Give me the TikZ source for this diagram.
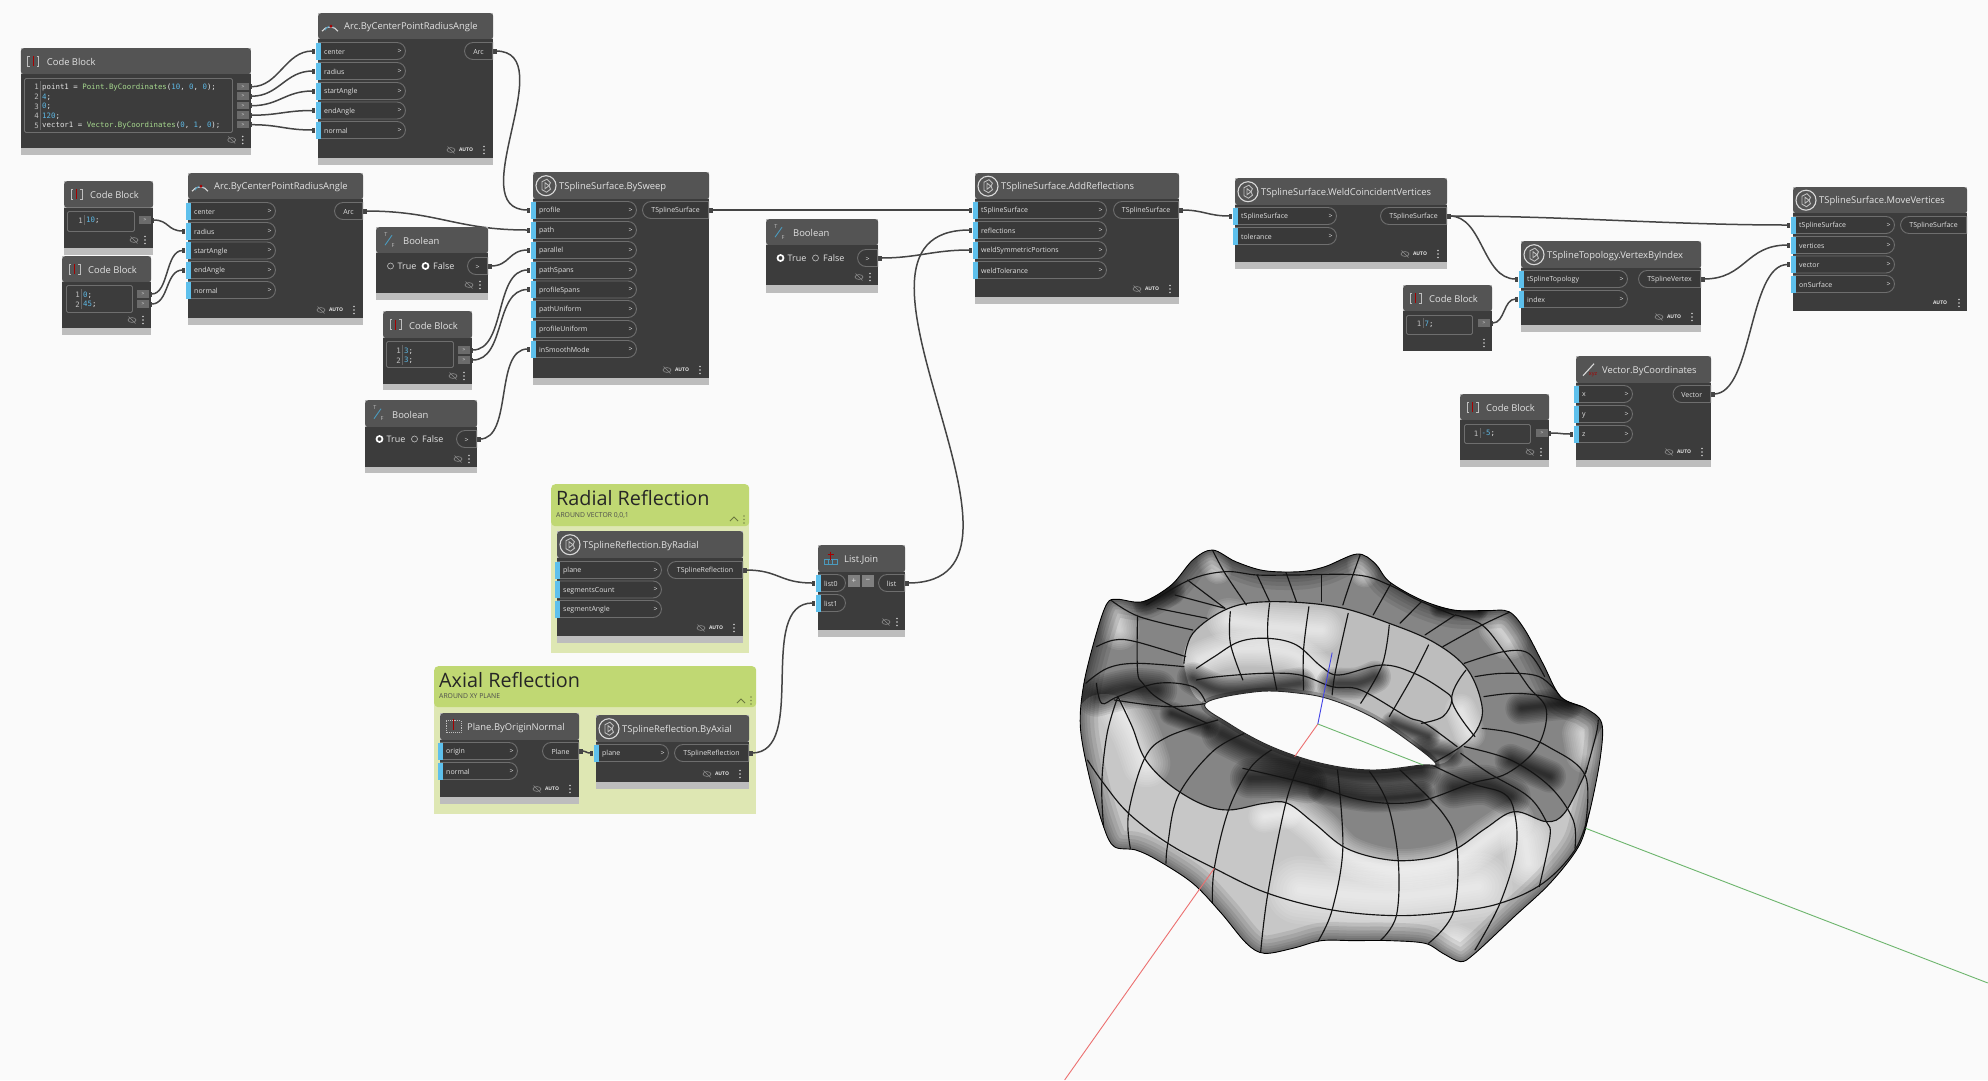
\documentclass[tikz,border=0pt]{standalone}
\usepackage{fontspec}
\setmainfont{Open Sans}
\setsansfont{Open Sans}
\setmonofont{DejaVu Sans Mono}
\usetikzlibrary{arrows.meta,positioning,shapes.misc}
\definecolor{canvasGray}{HTML}{FAFAFA}
\definecolor{bodyDark}{HTML}{3C3C3C}
\definecolor{headDark}{HTML}{545454}
\definecolor{footGray}{HTML}{BDBDBD}
\definecolor{pillEdge}{HTML}{6E6E6E}
\definecolor{pillFill}{HTML}{393939}
\definecolor{portBlue}{HTML}{5EC0EC}
\definecolor{wireGray}{HTML}{444444}
\definecolor{labelGray}{HTML}{E2E2E2}
\definecolor{groupBand}{HTML}{C0D873}
\definecolor{groupBody}{HTML}{DEE7B3}
\definecolor{codeBlue}{HTML}{5DB8E4}
\definecolor{codeGreen}{HTML}{A6D88E}
\definecolor{axisRed}{HTML}{EC7070}
\definecolor{axisGreen}{HTML}{6DB56D}
\definecolor{axisBlue}{HTML}{4545E6}
\pgfdeclarelayer{groups}
\pgfdeclarelayer{wires}
\pgfsetlayers{groups,wires,main}
\tikzset{
  >=Latex,
  font=\sffamily,
  % blocks
  blockbody/.style={fill=bodyDark, anchor=north west, inner sep=0pt},
  blockfoot/.style={fill=footGray, anchor=north west, inner sep=0pt},
  blockhead/.style={fill=headDark, anchor=north west, inner sep=0pt, rounded corners=3pt},
  blocktitle/.style={anchor=west, yshift=-1pt, text=labelGray, inner sep=0pt, font=\sffamily\fontsize{9.4}{10}\selectfont},
  % ports
  inpill/.style={rounded rectangle, rounded rectangle left arc=none, draw=pillEdge, fill=pillFill,
    line width=0.9pt, minimum height=17pt, inner sep=0pt, anchor=west},
  outpill/.style={rounded rectangle, rounded rectangle right arc=none, draw=pillEdge, fill=pillFill,
    line width=0.9pt, minimum height=17pt, inner sep=0pt, anchor=east},
  portstrip/.style={fill=portBlue, minimum width=5pt, minimum height=17pt, inner sep=0pt},
  portlabel/.style={yshift=-1pt, text=labelGray, inner sep=0pt, font=\sffamily\fontsize{7}{8}\selectfont},
  chevron/.style={text=labelGray, inner sep=0pt, font=\sffamily\fontsize{7}{8}\selectfont},
  chipbox/.style={fill=black!58, minimum width=11.5pt, minimum height=7.5pt, inner sep=0pt,
    text=labelGray, font=\sffamily\fontsize{5}{6}\selectfont},
  % code blocks
  codeframe/.style={draw=pillEdge, line width=0.9pt, rounded corners=1.5pt, anchor=north west, inner sep=0pt},
  codenum/.style={anchor=east, yshift=-1pt, inner sep=0pt, text=black!25, font=\ttfamily\fontsize{7.4}{8}\selectfont},
  codetext/.style={anchor=west, yshift=-1pt, inner sep=0pt, text=labelGray, font=\ttfamily\fontsize{7.4}{8}\selectfont},
  codeseam/.style={draw=black!60, line width=0.5pt},
  % booleans
  radiooff/.style={circle, draw=black!30, line width=0.7pt, minimum size=6pt, inner sep=0pt},
  radioon/.style={circle, draw=white, fill=bodyDark, line width=1.7pt, minimum size=6pt, inner sep=0pt},
  radiotext/.style={anchor=west, inner sep=0pt, text=labelGray, font=\sffamily\fontsize{9}{10}\selectfont},
  % footer and icons
  autotext/.style={inner sep=0pt, text=labelGray, font=\sffamily\bfseries\fontsize{5}{6}\selectfont},
  kebab/.style={fill=black!20},
  eyeline/.style={draw=black!45, line width=0.6pt},
  iconline/.style={draw=black!25, line width=0.9pt},
  iconwhite/.style={draw=white!85!black, line width=1.1pt},
  iconred/.style={draw=red!65!black, line width=1pt},
  iconblue/.style={draw=portBlue!80!black, line width=0.9pt},
  icontext/.style={inner sep=0pt, text=black!25, font=\sffamily\fontsize{5.5}{6}\selectfont},
  listbutton/.style={fill=black!50, minimum size=12pt, inner sep=0pt, text=labelGray, font=\sffamily\fontsize{8}{9}\selectfont},
  % groups
  groupband/.style={fill=groupBand, anchor=north west, inner sep=0pt, rounded corners=4pt},
  groupbody/.style={fill=groupBody, anchor=north west, inner sep=0pt},
  grouptitle/.style={anchor=west, inner sep=0pt, text=black!85, font=\sffamily\fontsize{19.8}{24}\selectfont},
  groupnote/.style={anchor=west, inner sep=0pt, text=black!70, font=\sffamily\fontsize{6.8}{8}\selectfont},
  groupmark/.style={draw=black!45!groupBand, line width=0.9pt},
  groupdot/.style={fill=black!35!groupBand},
  % wires
  wire/.style={draw=wireGray, line width=1.5pt,
    {Rectangle[length=3.5pt,width=5pt]}-{Rectangle[length=3.5pt,width=5pt]}},
  % viewport
  canvas/.style={fill=canvasGray},
  meshline/.style={draw=black!92, line width=1.15pt, line cap=round},
  axisline/.style={line width=0.9pt}
}
\newcommand{\dynblock}[7]{%
  \pgfmathsetmacro{\dynW}{#4-#2}%
  \pgfmathsetmacro{\dynF}{#7-#3}%
  \pgfmathsetmacro{\dynB}{#6-#5}%
  \pgfmathsetmacro{\dynH}{#5-#3}%
  \node[blockfoot, minimum width=\dynW pt, minimum height=\dynF pt] (#1foot) at (#2,#3) {};
  \node[blockhead, minimum width=\dynW pt, minimum height=\dynH pt] (#1head) at (#2,#3) {};
  \node[blockbody, minimum width=\dynW pt, minimum height=\dynB pt] (#1) at (#2,#5) {};
}
% the title comes after the block so the head never hides it
\newcommand{\dyntitle}[3]{\node[blocktitle] (#1title) at ([xshift=#2pt]#1head.west) {#3};}
\newcommand{\shortport}[5]{%
  \node[inpill, minimum width=#4pt] (#1pill) at (#2,#3) {};
  \node[portstrip] (#1) at (#2,#3) {};
  \node[portlabel, anchor=west] (#1label) at ([xshift=6pt]#1.center) {#5};
}
\newcommand{\inport}[5]{%
  \shortport{#1}{#2}{#3}{#4}{#5}
  \node[chevron, anchor=east] (#1mark) at ([xshift=-4pt]#1pill.east) {>};
}
\newcommand{\outport}[5]{%
  \node[outpill, minimum width=#4pt] (#1) at (#2,#3) {};
  \node[portlabel] (#1label) at (#1.center) {#5};
}
\newcommand{\codeline}[5]{%
  \node[codenum] (#1num) at ([xshift=-1.5pt]#2,#3) {#4};
  \node[codetext] (#1code) at ([xshift=1.5pt]#2,#3) {#5};
  \draw[codeseam] ([yshift=-5pt]#2,#3) -- ([yshift=5pt]#2,#3);
}
\newcommand{\cnum}[1]{\textcolor{codeBlue}{#1}}
\newcommand{\ccls}[1]{\textcolor{codeGreen}{#1}}
\newcommand{\kebabdots}[2]{%
  \foreach \dy in {-3.5,0,3.5} \fill[kebab] ([xshift=-#2pt,yshift=-\dy pt]#1) ++(0,-8) circle (0.9pt);
}
\newcommand{\eyemark}[2]{%
  \begin{scope}[shift={(#1)}]
    \draw[eyeline] (-#2,-8) ellipse (4pt and 2.4pt);
    \draw[eyeline] (-#2-3.5,-11.5) -- (-#2+3.5,-4.5);
  \end{scope}
}
\newcommand{\autofoot}[2]{%
  \eyemark{#2}{42}
  \node[autotext] (#1auto) at ([xshift=-27pt,yshift=8pt]#2) {AUTO};
  \kebabdots{#2}{9}
}
\newcommand{\plainfoot}[1]{\eyemark{#1}{19}\kebabdots{#1}{8}}
\newcommand{\iconcode}[1]{%
  \begin{scope}[shift={(#1head.west)}]
    \draw[iconline] (9,-5) -- (7,-5) -- (7,5) -- (9,5);
    \draw[iconline] (16,-5) -- (18,-5) -- (18,5) -- (16,5);
    \draw[iconred] (12.5,-5) -- (12.5,5);
  \end{scope}
}
\newcommand{\iconring}[1]{%
  \begin{scope}[shift={(#1head.west)}]
    \draw[iconwhite] (13,0) circle (10pt);
    \draw[iconline] (9,-4) -- (14,-6.5) -- (17.5,-3) -- (16,0) -- (17.5,3.5) -- (13.5,6.5) -- (9,4) -- cycle;
    \draw[iconline] (12,-3) -- (12,3) -- (16,0) -- cycle;
  \end{scope}
}
\newcommand{\iconarc}[1]{%
  \begin{scope}[shift={(#1head.west)}]
    \draw[iconwhite] (4,5) arc (147:33:9.5pt);
    \draw[iconblue] (7,4) arc (160:60:6pt);
    \fill[red!65!black] (13,0) circle (1.6pt);
  \end{scope}
}
\newcommand{\iconbool}[1]{%
  \begin{scope}[shift={(#1head.west)}]
    \draw[iconblue] (9,5) -- (16,-5);
    \node[icontext] (#1iconT) at (10,-6) {T};
    \node[icontext] (#1iconF) at (17,5) {F};
  \end{scope}
}
\newcommand{\boolrow}[5]{%
  \node[#4] (#1radioT) at ([xshift=14.5pt]#2,#3) {};
  \node[radiotext] (#1true) at ([xshift=21.5pt]#2,#3) {True};
  \node[#5] (#1radioF) at ([xshift=49.5pt]#2,#3) {};
  \node[radiotext] (#1false) at ([xshift=57pt]#2,#3) {False};
}
\newcommand{\mesh}[1]{\draw[meshline] plot[smooth, tension=0.6] coordinates {#1};}
% a stroke built up in layers, it reads as a blurred band on the surface
\newcommand{\softband}[3]{%
  \foreach \w in {40,36,32,28,24,20,16,13,10,7,4}
    \draw[#1, opacity=0.085, line width={\w*#2*1pt}, line cap=round] plot[smooth, tension=0.6] coordinates {#3};
}
\newcommand{\ringshape}{plot[smooth cycle, tension=0.55] coordinates {(455,90)(520,125)(600,152)(700,155)(770,140)(860,102)(910,130)(950,185)(1040,240)(1130,270)(1220,272)(1285,275)(1330,330)(1380,430)(1430,530)(1500,565)(1545,610)(1540,720)(1510,880)(1480,980)(1400,1090)(1300,1190)(1190,1300)(1150,1325)(1100,1300)(1050,1270)(950,1262)(850,1262)(760,1262)(680,1285)(600,1300)(550,1270)(480,1180)(400,1090)(300,1020)(240,990)(180,980)(150,920)(110,770)(85,620)(95,490)(130,340)(160,250)(190,238)(260,245)(340,195)(400,120)}}
\newcommand{\holeshape}{plot[smooth cycle, tension=0.6] coordinates {(435,550)(580,515)(700,520)(790,540)(900,590)(1000,660)(1080,730)(1040,735)(900,750)(760,730)(620,680)(500,610)}}
\begin{document}
\begin{tikzpicture}[x=1pt,y=-1pt]
\useasboundingbox (0,0) rectangle (1988,1080);
\begin{pgfonlayer}{groups}
\fill[canvas] (0,0) rectangle (1988,1080);
\node[groupbody, minimum width=198pt, minimum height=159pt] (radialgroup) at (551,494) {};
\node[groupband, minimum width=198pt, minimum height=42pt] (radialband) at (551,484) {};
\node[groupbody, minimum width=322pt, minimum height=138pt] (axialgroup) at (434,676) {};
\node[groupband, minimum width=322pt, minimum height=41pt] (axialband) at (434,666) {};
\end{pgfonlayer}

\node[grouptitle] (radialtitle) at (556,498) {Radial Reflection};
\node[groupnote] (radialnote) at (556,515) {AROUND VECTOR 0,0,1};
\draw[groupmark] (730,521) -- (734,517) -- (738,521);
\foreach \dy in {516,519.5,523} \fill[groupdot] (744,\dy) circle (0.9pt);
\node[grouptitle] (axialtitle) at (439,680) {Axial Reflection};
\node[groupnote] (axialnote) at (439,696) {AROUND XY PLANE};
\draw[groupmark] (737,703) -- (741,699) -- (745,703);
\foreach \dy in {697,700.5,704} \fill[groupdot] (751,\dy) circle (0.9pt);

% top left code block and arc
\dynblock{codeA}{20.7}{48}{250.7}{74}{148}{155}
\dyntitle{codeA}{26}{Code Block}\iconcode{codeA}
\node[codeframe, minimum width=208pt, minimum height=54pt] (codeAframe) at (24,78) {};
\codeline{codeAa}{40.5}{86}{1}{point1 = \ccls{Point.ByCoordinates}(\cnum{10}, \cnum{0}, \cnum{0});}
\codeline{codeAb}{40.5}{96}{2}{\cnum{4};}
\codeline{codeAc}{40.5}{105.5}{3}{\cnum{0};}
\codeline{codeAd}{40.5}{115}{4}{\cnum{120};}
\codeline{codeAe}{40.5}{124.7}{5}{vector1 = \ccls{Vector.ByCoordinates}(\cnum{0}, \cnum{1}, \cnum{0});}
\node[chipbox] (codeAone) at (243,86.7) {>};
\node[chipbox] (codeAtwo) at (243,96.2) {>};
\node[chipbox] (codeAthree) at (243,105.7) {>};
\node[chipbox] (codeAfour) at (243,115.2) {>};
\node[chipbox] (codeAfive) at (243,124.7) {>};
\coordinate (codeAcorner) at (250.7,148);
\plainfoot{codeAcorner}

\dynblock{arcA}{318}{13}{493}{39}{158}{165}
\dyntitle{arcA}{26}{Arc.ByCenterPointRadiusAngle}\iconarc{arcA}
\inport{arcAcenter}{318}{51}{87}{center}
\inport{arcAradius}{318}{71}{87}{radius}
\inport{arcAstart}{318}{91}{87}{startAngle}
\inport{arcAend}{318}{110.5}{87}{endAngle}
\inport{arcAnormal}{318}{130}{87}{normal}
\outport{arcAout}{493}{51}{28}{Arc}
\coordinate (arcAcorner) at (493,158);
\autofoot{arcA}{arcAcorner}

% second arc with its two code blocks
\dynblock{codeB}{64}{181}{153}{207.5}{248}{255}
\dyntitle{codeB}{26}{Code Block}\iconcode{codeB}
\node[codeframe, minimum width=67pt, minimum height=20pt] (codeBframe) at (67,211) {};
\codeline{codeBa}{84.5}{219.5}{1}{\cnum{10};}
\node[chipbox] (codeBone) at (145,220) {>};
\coordinate (codeBcorner) at (153,248);
\plainfoot{codeBcorner}

\dynblock{codeC}{62}{256}{151}{282}{328}{335}
\dyntitle{codeC}{26}{Code Block}\iconcode{codeC}
\node[codeframe, minimum width=66pt, minimum height=27pt] (codeCframe) at (66,285) {};
\codeline{codeCa}{81.5}{294}{1}{\cnum{0};}
\codeline{codeCb}{81.5}{303.5}{2}{\cnum{45};}
\node[chipbox] (codeCone) at (143,294) {>};
\node[chipbox] (codeCtwo) at (143,304) {>};
\coordinate (codeCcorner) at (151,328);
\plainfoot{codeCcorner}

\dynblock{arcB}{188}{173}{363}{199}{318}{325}
\dyntitle{arcB}{26}{Arc.ByCenterPointRadiusAngle}\iconarc{arcB}
\inport{arcBcenter}{188}{211}{87}{center}
\inport{arcBradius}{188}{231}{87}{radius}
\inport{arcBstart}{188}{250.5}{87}{startAngle}
\inport{arcBend}{188}{270}{87}{endAngle}
\inport{arcBnormal}{188}{290}{87}{normal}
\outport{arcBout}{363}{211}{28}{Arc}
\coordinate (arcBcorner) at (363,318);
\autofoot{arcB}{arcBcorner}

% sweep inputs
\dynblock{boolA}{376}{227}{488}{253}{293}{300}
\dyntitle{boolA}{27}{Boolean}\iconbool{boolA}
\boolrow{boolA}{376}{266}{radiooff}{radioon}
\outport{boolAout}{488}{266}{20}{>}
\coordinate (boolAcorner) at (488,293);
\plainfoot{boolAcorner}

\dynblock{codeD}{383}{311}{472}{338}{384}{390}
\dyntitle{codeD}{26}{Code Block}\iconcode{codeD}
\node[codeframe, minimum width=67pt, minimum height=26pt] (codeDframe) at (386,341) {};
\codeline{codeDa}{402.5}{350}{1}{\cnum{3};}
\codeline{codeDb}{402.5}{359.5}{2}{\cnum{3};}
\node[chipbox] (codeDone) at (464,350) {>};
\node[chipbox] (codeDtwo) at (464,360) {>};
\coordinate (codeDcorner) at (472,384);
\plainfoot{codeDcorner}

\dynblock{boolB}{365}{400}{477}{427}{467}{473}
\dyntitle{boolB}{27}{Boolean}\iconbool{boolB}
\boolrow{boolB}{365}{439}{radioon}{radiooff}
\outport{boolBout}{477}{439}{20}{>}
\coordinate (boolBcorner) at (477,467);
\plainfoot{boolBcorner}

\dynblock{sweep}{533}{172}{709}{199}{378}{385}
\dyntitle{sweep}{26}{TSplineSurface.BySweep}\iconring{sweep}
\inport{sweepprofile}{533}{210}{103}{profile}
\inport{sweeppath}{533}{230}{103}{path}
\inport{sweepparallel}{533}{250}{103}{parallel}
\inport{sweeppathspans}{533}{270}{103}{pathSpans}
\inport{sweepprofilespans}{533}{289.5}{103}{profileSpans}
\inport{sweeppathuniform}{533}{309}{103}{pathUniform}
\inport{sweepprofileuniform}{533}{329}{103}{profileUniform}
\inport{sweepsmooth}{533}{349}{103}{inSmoothMode}
\outport{sweepout}{709}{210}{66}{TSplineSurface}
\coordinate (sweepcorner) at (709,378);
\autofoot{sweep}{sweepcorner}

% add reflections and weld
\dynblock{boolC}{766}{219}{878}{245}{285}{293}
\dyntitle{boolC}{27}{Boolean}\iconbool{boolC}
\boolrow{boolC}{766}{258}{radioon}{radiooff}
\outport{boolCout}{878}{258}{20}{>}
\coordinate (boolCcorner) at (878,285);
\plainfoot{boolCcorner}

\dynblock{addrefl}{975}{173}{1179}{199}{297}{304}
\dyntitle{addrefl}{26}{TSplineSurface.AddReflections}\iconring{addrefl}
\inport{addreflsurface}{975}{210}{131}{tSplineSurface}
\inport{addreflreflections}{975}{230}{131}{reflections}
\inport{addreflweld}{975}{250}{131}{weldSymmetricPortions}
\inport{addrefltolerance}{975}{270}{131}{weldTolerance}
\outport{addreflout}{1179}{210}{65}{TSplineSurface}
\coordinate (addreflcorner) at (1179,297);
\autofoot{addrefl}{addreflcorner}

\dynblock{weld}{1235}{178}{1447}{205}{262}{269}
\dyntitle{weld}{26}{TSplineSurface.WeldCoincidentVertices}\iconring{weld}
\inport{weldsurface}{1235}{216}{101}{tSplineSurface}
\inport{weldtolerance}{1235}{236}{101}{tolerance}
\outport{weldout}{1447}{216}{66}{TSplineSurface}
\coordinate (weldcorner) at (1447,262);
\autofoot{weld}{weldcorner}

% vertex, vector, move
\dynblock{vertex}{1521}{241}{1701}{268}{325}{332}
\dyntitle{vertex}{26}{TSplineTopology.VertexByIndex}\iconring{vertex}
\inport{vertextopology}{1521}{279}{106}{tSplineTopology}
\inport{vertexindex}{1521}{299}{106}{index}
\outport{vertexout}{1701}{279}{62}{TSplineVertex}
\coordinate (vertexcorner) at (1701,325);
\autofoot{vertex}{vertexcorner}

\dynblock{codeE}{1403}{285}{1492}{311}{351}{351}
\dyntitle{codeE}{26}{Code Block}\iconcode{codeE}
\node[codeframe, minimum width=66pt, minimum height=19pt] (codeEframe) at (1406,315) {};
\codeline{codeEa}{1423}{323}{1}{\cnum{7};}
\node[chipbox] (codeEone) at (1484,323) {>};
\coordinate (codeEcorner) at (1492,351);
\kebabdots{codeEcorner}{8}

\dynblock{codeF}{1460}{394}{1549}{420}{460}{467}
\dyntitle{codeF}{26}{Code Block}\iconcode{codeF}
\node[codeframe, minimum width=66pt, minimum height=19pt] (codeFframe) at (1464,424) {};
\codeline{codeFa}{1480}{432.5}{1}{\cnum{-5};}
\node[chipbox] (codeFone) at (1542,433) {>};
\coordinate (codeFcorner) at (1549,460);
\plainfoot{codeFcorner}

\dynblock{vector}{1576}{356}{1711}{383}{460}{467}
\dyntitle{vector}{26}{Vector.ByCoordinates}
\begin{scope}[shift={(vectorhead.west)}]
  \draw[iconwhite] (7,6) -- (18,-6);
  \node[icontext, text=red!65!black] (vectoriconxyz) at (17,5) {xyz};
\end{scope}
\inport{vectorx}{1576}{394}{56}{x}
\inport{vectory}{1576}{414}{56}{y}
\inport{vectorz}{1576}{434}{56}{z}
\outport{vectorout}{1711}{394}{37.5}{Vector}
\coordinate (vectorcorner) at (1711,460);
\autofoot{vector}{vectorcorner}

\dynblock{move}{1793}{187}{1967}{213}{311}{311}
\dyntitle{move}{26}{TSplineSurface.MoveVertices}\iconring{move}
\inport{movesurface}{1793}{225}{101}{tSplineSurface}
\inport{movevertices}{1793}{245}{101}{vertices}
\inport{movevector}{1793}{264.5}{101}{vector}
\inport{moveonsurface}{1793}{284}{101}{onSurface}
\outport{moveout}{1967}{225}{66}{TSplineSurface}
\coordinate (movecorner) at (1967,311);
\node[autotext] (moveauto) at ([xshift=-27pt,yshift=8pt]movecorner) {AUTO};
\kebabdots{movecorner}{8}

% reflections and list join
\dynblock{radial}{557}{531}{743}{558}{636}{643}
\dyntitle{radial}{26}{TSplineReflection.ByRadial}\iconring{radial}
\inport{radialplane}{557}{570}{104}{plane}
\inport{radialcount}{557}{589.5}{104}{segmentsCount}
\inport{radialangle}{557}{609}{104}{segmentAngle}
\outport{radialout}{743}{570}{75}{TSplineReflection}
\coordinate (radialcorner) at (743,636);
\autofoot{radial}{radialcorner}

\dynblock{plane}{440}{713}{579}{740}{797}{804}
\dyntitle{plane}{27}{Plane.ByOriginNormal}
\begin{scope}[shift={(planehead.west)}]
  \draw[iconline, densely dotted] (6,-6) rectangle (21,6);
  \draw[iconred] (13.5,-8) -- (13.5,3);
\end{scope}
\inport{planeorigin}{440}{751}{77}{origin}
\inport{planenormal}{440}{771}{77}{normal}
\outport{planeout}{579}{751}{36}{Plane}
\coordinate (planecorner) at (579,797);
\autofoot{plane}{planecorner}

\dynblock{axial}{596}{715}{749}{742}{782}{789}
\dyntitle{axial}{26}{TSplineReflection.ByAxial}\iconring{axial}
\inport{axialplane}{596}{753}{72}{plane}
\outport{axialout}{749}{753}{74}{TSplineReflection}
\coordinate (axialcorner) at (749,782);
\autofoot{axial}{axialcorner}

\dynblock{join}{818}{545}{905}{572}{630}{637}
\dyntitle{join}{26}{List.Join}
\begin{scope}[shift={(joinhead.west)}]
  \draw[iconblue] (6,1) rectangle (19,6);
  \draw[iconblue] (10.5,1) -- (10.5,6);
  \draw[iconblue] (14.5,1) -- (14.5,6);
  \draw[iconred] (12.5,-7) -- (12.5,1);
  \draw[iconred] (9.5,-4) -- (15.5,-4);
\end{scope}
\shortport{joinzero}{818}{583}{27}{list0}
\shortport{joinone}{818}{603}{27}{list1}
\outport{joinout}{905}{583}{26}{list}
\node[listbutton] (joinplus) at (854,581) {+};
\node[listbutton] (joinminus) at (868,581) {−};
\coordinate (joincorner) at (905,630);
\plainfoot{joincorner}

\begin{pgfonlayer}{wires}
\draw[wire] (codeAone.east) .. controls +(30,0) and +(-30,0) .. (arcAcenter.west);
\draw[wire] (codeAtwo.east) .. controls +(30,0) and +(-30,0) .. (arcAradius.west);
\draw[wire] (codeAthree.east) .. controls +(30,0) and +(-30,0) .. (arcAstart.west);
\draw[wire] (codeAfour.east) .. controls +(30,0) and +(-30,0) .. (arcAend.west);
\draw[wire] (codeAfive.east) .. controls +(30,0) and +(-30,0) .. (arcAnormal.west);
\draw[wire] (arcAout.east) .. controls +(70,0) and +(-70,0) .. (sweepprofile.west);
\draw[wire] (codeBone.east) .. controls +(18,0) and +(-18,0) .. (arcBradius.west);
\draw[wire] (codeCone.east) .. controls +(20,0) and +(-20,0) .. (arcBstart.west);
\draw[wire] (codeCtwo.east) .. controls +(20,0) and +(-20,0) .. (arcBend.west);
\draw[wire] (arcBout.east) .. controls +(75,0) and +(-75,0) .. (sweeppath.west);
\draw[wire] (boolAout.east) .. controls +(22,0) and +(-22,0) .. (sweepparallel.west);
\draw[wire] (codeDone.east) .. controls +(36,0) and +(-36,0) .. (sweeppathspans.west);
\draw[wire] (codeDtwo.east) .. controls +(36,0) and +(-36,0) .. (sweepprofilespans.west);
\draw[wire] (boolBout.east) .. controls +(36,0) and +(-36,0) .. (sweepsmooth.west);
\draw[wire] (sweepout.east) .. controls +(60,0) and +(-60,0) .. (addreflsurface.west);
\draw[wire] (boolCout.east) .. controls +(40,0) and +(-40,0) .. (addreflweld.west);
\draw[wire] (joinout.east) .. controls +(165,0) and +(-165,0) .. (addreflreflections.west);
\draw[wire] (addreflout.east) .. controls +(25,0) and +(-25,0) .. (weldsurface.west);
\draw[wire] (weldout.east) .. controls +(120,0) and +(-120,0) .. (movesurface.west);
\draw[wire] (weldout.east) .. controls +(36,0) and +(-36,0) .. (vertextopology.west);
\draw[wire] (codeEone.east) .. controls +(15,0) and +(-15,0) .. (vertexindex.west);
\draw[wire] (vertexout.east) .. controls +(45,0) and +(-45,0) .. (movevertices.west);
\draw[wire] (vectorout.east) .. controls +(42,0) and +(-42,0) .. (movevector.west);
\draw[wire] (codeFone.east) .. controls +(14,0) and +(-14,0) .. (vectorz.west);
\draw[wire] (radialout.east) .. controls +(36,0) and +(-36,0) .. (joinzero.west);
\draw[wire] (axialout.east) .. controls +(60,0) and +(-60,0) .. (joinone.west);
\draw[wire] (planeout.east) .. controls +(8,0) and +(-8,0) .. (axialplane.west);
\end{pgfonlayer}

% surface preview
\begin{scope}[shift={(1050,520)}, x=0.3571pt, y=-0.3333pt]
\begin{scope}
  \clip \ringshape;
  \fill[black!48] (0,0) rectangle (1600,1400);
  % front wall
  \fill[black!22] plot[smooth cycle, tension=0.5] coordinates {(190,530)(230,620)(265,715)(330,790)(420,850)(500,870)(600,850)(665,850)(740,910)(830,985)(950,1020)(1060,1015)(1140,985)(1220,925)(1300,875)(1390,905)(1440,880)(1490,780)(1560,620)(1640,1000)(1200,1440)(100,1440)(40,700)(100,540)};
  % inner wall
  \fill[black!26] plot[smooth cycle, tension=0.5] coordinates {(375,430)(400,340)(500,265)(620,245)(800,260)(950,310)(1080,370)(1170,450)(1210,560)(1195,630)(1150,680)(1080,730)(900,600)(700,520)(435,550)};
  % highlights
  \softband{white}{1}{(700,880)(760,930)(830,1005)(950,1045)(1060,1040)(1150,1010)(1230,950)(1300,900)}
  \softband{white}{1.2}{(205,570)(240,640)(270,730)}
  \softband{white}{0.8}{(600,890)(660,880)}
  \softband{white}{1.1}{(500,300)(620,320)(760,330)}
  \softband{white}{0.9}{(420,420)(480,395)(560,385)(680,400)(760,460)}
  \softband{white}{0.8}{(1150,570)(1175,640)}
  \softband{white}{1.2}{(1330,960)(1340,1030)}
  \softband{white}{1.7}{(700,1110)(950,1130)(1200,1100)}
  \softband{white}{1}{(185,280)(195,330)}
  \softband{white}{1}{(1255,320)(1285,360)}
  \softband{white}{1}{(1490,640)(1500,700)}
  \softband{white}{0.7}{(870,130)(880,160)}
  \softband{white}{0.7}{(450,120)(470,150)}
  \softband{white}{1}{(1130,1270)(1170,1290)}
  % creases
  \softband{black}{1}{(130,530)(230,505)(300,510)}
  \softband{black}{1}{(560,775)(640,775)(720,790)}
  \softband{black}{1}{(1130,805)(1220,795)(1290,830)}
  \softband{black}{0.8}{(790,490)(860,490)(910,470)}
  \softband{black}{0.8}{(400,475)(470,510)(560,510)(700,490)}
  \softband{black}{0.8}{(1320,565)(1400,555)(1450,550)}
  \softband{black}{0.7}{(270,245)(340,215)}
  \softband{black}{0.7}{(1040,690)(1120,705)}
  \softband{black}{1}{(480,640)(600,700)(760,750)(900,765)(1040,750)}
  \softband{black}{0.6}{(960,610)(1060,650)}
  \softband{black}{0.5}{(1090,265)(1200,270)}
  \softband{black}{0.8}{(1290,720)(1400,770)}
  \softband{black}{0.7}{(760,810)(900,835)(1040,825)}
  \softband{black}{0.6}{(340,580)(440,620)}
  % edge darkening
  \foreach \w in {36,28,20,14,9,5}
    \draw[black, opacity=0.085, line width=\w pt] \ringshape;
  \draw[black, opacity=0.22, line width=7pt] \holeshape;
  % front mesh
  \mesh{(190,530)(230,620)(265,715)(330,790)(420,850)(500,870)(600,850)(665,850)(740,910)(830,985)(950,1020)(1060,1015)(1140,985)(1220,925)(1300,875)(1390,905)(1440,880)(1490,780)(1505,740)}
  \mesh{(105,720)(150,790)(220,880)(330,970)(460,1045)(610,1120)(790,1170)(970,1187)(1130,1175)(1260,1150)(1380,1090)(1470,990)(1510,880)}
  \mesh{(590,1295)(610,1120)(660,850)(700,725)}
  \mesh{(455,1160)(460,1045)(500,870)(560,745)(620,690)}
  \mesh{(325,1030)(330,970)(360,825)(455,695)(545,640)}
  \mesh{(225,985)(220,880)(265,715)(330,650)(470,600)}
  \mesh{(150,920)(145,790)(160,640)(190,530)}
  \mesh{(750,1265)(790,1170)(820,985)(805,750)}
  \mesh{(925,1262)(970,1187)(975,1020)(945,850)(895,755)}
  \mesh{(1060,1270)(1130,1175)(1140,985)(1100,880)(980,750)}
  \mesh{(1190,1290)(1260,1150)(1305,990)(1300,875)(1270,820)(1180,790)(1060,730)}
  \mesh{(1370,1100)(1400,950)(1390,905)(1340,830)(1230,760)(1150,700)}
  \mesh{(1470,985)(1465,900)(1400,800)(1290,720)(1160,680)}
  \mesh{(540,745)(660,775)(750,800)(850,835)(950,850)(1050,840)(1180,790)(1280,760)(1365,680)(1390,570)(1340,500)(1275,400)(1210,315)(1135,285)}
  \mesh{(1495,950)(1500,770)(1395,680)(1300,640)(1210,625)}
  % right mesh
  \mesh{(1160,430)(1270,395)(1340,400)(1385,470)}
  \mesh{(1190,470)(1270,460)(1370,470)(1430,530)}
  \mesh{(1215,530)(1300,520)(1390,530)(1490,560)}
  \mesh{(1500,760)(1530,640)(1535,600)}
  \mesh{(1100,380)(1210,315)(1290,275)}
  \mesh{(1050,345)(1135,285)}
  \mesh{(980,310)(1040,245)}
  \mesh{(905,285)(955,190)}
  % back mesh
  \mesh{(455,90)(490,160)(550,255)}
  \mesh{(580,165)(615,245)}
  \mesh{(660,155)(690,245)}
  \mesh{(760,165)(760,245)}
  \mesh{(870,100)(840,190)(820,255)}
  \mesh{(270,255)(390,180)(490,155)(580,165)(680,165)(860,165)(950,195)(1030,240)(1130,285)}
  \mesh{(170,240)(250,290)(400,330)}
  \mesh{(300,265)(440,295)}
  \mesh{(350,225)(490,265)}
  \mesh{(385,180)(490,265)}
  % left mesh
  \mesh{(130,380)(180,360)(240,365)(380,410)}
  \mesh{(100,490)(160,445)(240,430)(375,440)}
  \mesh{(245,290)(245,450)(260,490)(310,540)(440,610)}
  \mesh{(130,490)(145,550)(190,530)(300,490)(400,500)(435,545)}
  \mesh{(180,540)(330,560)(440,550)}
  % inner wall mesh
  \mesh{(375,430)(400,340)(500,265)(620,245)(800,260)(950,310)(1080,370)(1170,450)(1210,560)(1195,630)(1150,680)(1080,725)}
  \mesh{(410,445)(460,410)(530,365)(610,355)(690,375)(760,440)(810,465)(930,435)(1020,460)(1100,510)(1125,540)(1100,590)(1040,610)}
  \mesh{(505,275)(505,370)(540,480)}
  \mesh{(615,250)(610,355)(635,510)}
  \mesh{(725,260)(710,390)(710,510)}
  \mesh{(835,280)(800,450)(790,525)}
  \mesh{(950,315)(930,435)(870,550)}
  \mesh{(1060,375)(1020,460)(950,590)}
  \mesh{(1165,450)(1125,540)(1190,650)}
  \mesh{(410,480)(470,470)(600,460)(700,465)(790,500)(870,510)(1000,590)(1050,610)(1140,680)}
  \fill[canvas] \holeshape;
  \draw[black!85, line width=0.9pt] \holeshape;
\end{scope}
\draw[black, line width=0.9pt] \ringshape;
% axes
\draw[axisRed, axisline] (750,612) -- (685,710);
\draw[axisRed, axisline] (460,1045) -- (41,1680);
\draw[axisGreen, axisline] (750,612) -- (1045,735);
\draw[axisGreen, axisline] (1500,925) -- (2626,1389);
\draw[axisBlue, axisline] (750,612) -- (790,398);
\end{scope}
\end{tikzpicture}
\end{document}
